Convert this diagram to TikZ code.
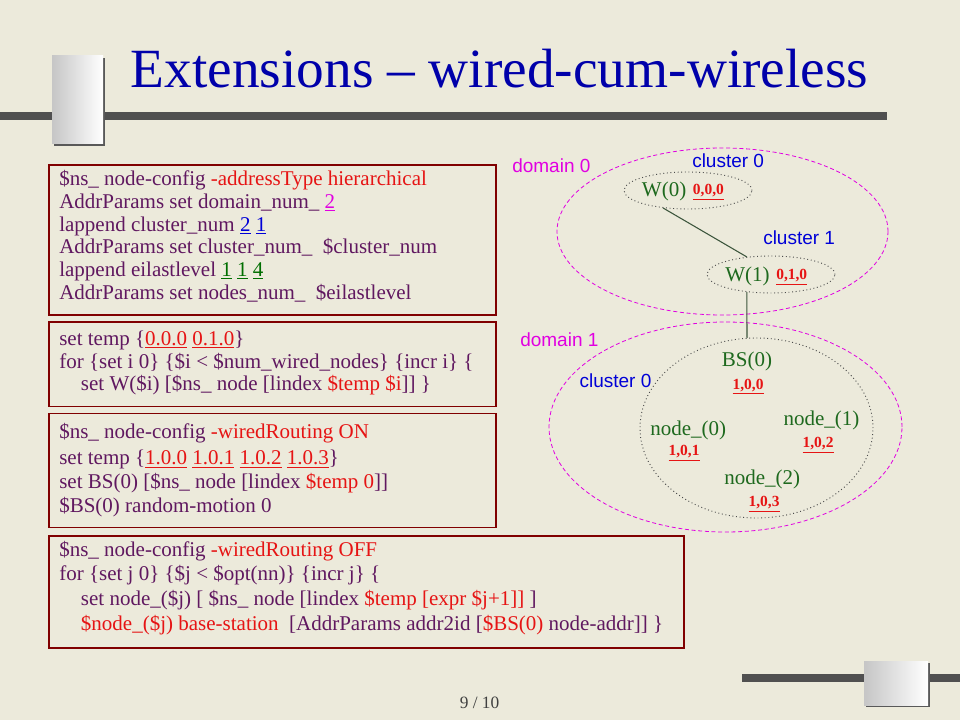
\documentclass[tikz,border=0pt]{standalone}
\usepackage{fontspec}
\setmainfont{Liberation Serif}
\setsansfont{Liberation Sans}
\usetikzlibrary{shapes.geometric}
\definecolor{bgc}{RGB}{236,234,219}
\definecolor{cpurple}{RGB}{96,24,96}
\definecolor{cred}{RGB}{230,20,20}
\definecolor{boxred}{RGB}{128,0,0}
\definecolor{cmag}{RGB}{225,0,225}
\definecolor{cblue}{RGB}{0,0,215}
\definecolor{cgreen}{RGB}{0,110,0}
\definecolor{dgreen}{RGB}{30,105,30}
\definecolor{titleblue}{RGB}{0,0,170}
\definecolor{barc}{RGB}{80,80,80}
\definecolor{wirec}{RGB}{60,85,60}
\newcommand{\ulc}[2]{\textcolor{#1}{\underline{#2}}}
\newcommand{\rd}[1]{\textcolor{cred}{#1}}
\tikzset{
  code/.style={anchor=base west, inner sep=0pt, text=cpurple, font=\fontsize{15.75pt}{18pt}\selectfont},
  codebox/.style={draw=boxred, line width=1pt},
  dom/.style={ellipse, draw=cmag, dashed, line width=0.6pt, dash pattern=on 3pt off 2pt, inner sep=0pt},
  clus/.style={ellipse, draw=gray!60!black, dotted, line width=0.7pt, inner sep=0pt},
  wire/.style={draw=wirec, line width=0.8pt},
  glabel/.style={anchor=base west, inner sep=0pt, text=dgreen, font=\fontsize{15.75pt}{18pt}\selectfont},
  addr/.style={anchor=base west, inner sep=0pt, text=cred, font=\fontsize{11.6pt}{13pt}\selectfont\bfseries},
  slabel/.style={anchor=base west, inner sep=0pt, font=\sffamily\fontsize{14.25pt}{16pt}\selectfont},
  marble/.style={left color=gray!45, right color=white, draw=none},
}
\begin{document}
\begin{tikzpicture}[x=0.75pt,y=-0.75pt]
\fill[bgc] (0,0) rectangle (960,720);
\path[use as bounding box] (0,0) rectangle (960,720);
% top bar and marble
\fill[barc] (0,112) rectangle (887,120.5);
\fill[gray!70!black] (54,58) rectangle (105,146);
\shade[marble] (52,56) rectangle (103,144);
\node[anchor=base west, inner sep=0pt, text=titleblue, font=\fontsize{41.5pt}{48pt}\selectfont] (title) at (130.5,88) {Extensions – wired-cum-wireless};
% bottom bar and marble
\fill[barc] (742,673.5) rectangle (960,681.5);
\fill[gray!70!black] (866,663) rectangle (930,707);
\shade[marble] (864,661) rectangle (928,705);
\node[anchor=base, inner sep=0pt, text=black!75, font=\fontsize{13pt}{15pt}\selectfont] (page) at (479.5,708) {9 / 10};
% box 1
\draw[codebox] (49,165) rectangle (496,315);
\node[code] (a1) at (59,186) {\$ns\_ node-config \rd{-addressType hierarchical}};
\node[code] (a2) at (59,208.7) {AddrParams set domain\_num\_ \ulc{cmag}{2}};
\node[code] (a3) at (59,231.4) {lappend cluster\_num \ulc{cblue}{2} \ulc{cblue}{1}};
\node[code] (a4) at (59,254) {AddrParams set cluster\_num\_ \ \$cluster\_num};
\node[code] (a5) at (59,276.7) {lappend eilastlevel \ulc{cgreen}{1} \ulc{cgreen}{1} \ulc{cgreen}{4}};
\node[code] (a6) at (59,299.3) {AddrParams set nodes\_num\_ \ \$eilastlevel};
% box 2
\draw[codebox] (49,322) rectangle (496,406.3);
\node[code] (b1) at (59,345.3) {set temp \{\ulc{cred}{0.0.0} \ulc{cred}{0.1.0}\}};
\node[code] (b2) at (59,368) {for \{set i 0\} \{\$i < \$num\_wired\_nodes\} \{incr i\} \{};
\node[code] (b3) at (80.7,390.7) {set W(\$i) [\$ns\_ node [lindex \rd{\$temp \$i}]] \}};
% box 3
\draw[codebox] (49,413.7) rectangle (496,527.3);
\node[code] (c1l) at (59,438.5) {\$ns\_ node-config \rd{-wiredRouting ON}};
\node[code] (c2l) at (59,464.7) {set temp \{\ulc{cred}{1.0.0} \ulc{cred}{1.0.1} \ulc{cred}{1.0.2} \ulc{cred}{1.0.3}\}};
\node[code] (c3l) at (59,488) {set BS(0) [\$ns\_ node [lindex \rd{\$temp 0}]]};
\node[code] (c4l) at (59,512.3) {\$BS(0) random-motion 0};
% box 4
\draw[codebox] (49,536) rectangle (684,648);
\node[code] (d1l) at (59,556) {\$ns\_ node-config \rd{-wiredRouting OFF}};
\node[code] (d2l) at (59,580) {for \{set j 0\} \{\$j < \$opt(nn)\} \{incr j\} \{};
\node[code] (d3l) at (80.7,605) {set node\_(\$j) [ \$ns\_ node [lindex \rd{\$temp [expr \$j+1]]} ]};
\node[code] (d4l) at (80.7,630) {\rd{\$node\_(\$j) base-station} \ [AddrParams addr2id [\rd{\$BS(0)} node-addr]] \}};
% diagram
\node[dom, minimum width=248.25pt, minimum height=125.25pt] (dom0) at (722.5,231.5) {};
\node[dom, minimum width=264.75pt, minimum height=157.5pt] (dom1) at (725.5,427) {};
\node[clus, minimum width=96pt, minimum height=27.75pt] (cw0) at (688,190.5) {};
\node[clus, minimum width=96pt, minimum height=27.75pt] (cw1) at (771,274.5) {};
\node[clus, minimum width=174.75pt, minimum height=135pt] (cbs) at (756.5,428) {};
\draw[wire] (cw0.215) -- (cw1.144);
\draw[wire] (cw1.216) -- (cbs.96);
\node[slabel, text=cmag] (ld0) at (512,173) {domain 0};
\node[slabel, text=cblue] (lc0) at (692,168) {cluster 0};
\node[slabel, text=cblue] (lc1) at (763,245) {cluster 1};
\node[slabel, text=cmag] (ld1) at (520,346.7) {domain 1};
\node[slabel, text=cblue] (lc2) at (579.3,387.3) {cluster 0};
\node[glabel] (nw0) at (641.7,196.7) {W(0)};
\node[addr] (aw0) at (692.7,195) {\underline{0,0,0}};
\node[glabel] (nw1) at (725,281.7) {W(1)};
\node[addr] (aw1) at (776,280) {\underline{0,1,0}};
\node[glabel] (nbs) at (721.7,366.7) {BS(0)};
\node[addr] (abs) at (732.3,389) {\underline{1,0,0}};
\node[glabel] (nn0) at (650,435) {node\_(0)};
\node[addr] (an0) at (668.3,455.7) {\underline{1,0,1}};
\node[glabel] (nn1) at (783.3,425) {node\_(1)};
\node[addr] (an1) at (802.3,447.7) {\underline{1,0,2}};
\node[glabel] (nn2) at (724,484) {node\_(2)};
\node[addr] (an2) at (748.3,506.7) {\underline{1,0,3}};
\end{tikzpicture}
\end{document}
